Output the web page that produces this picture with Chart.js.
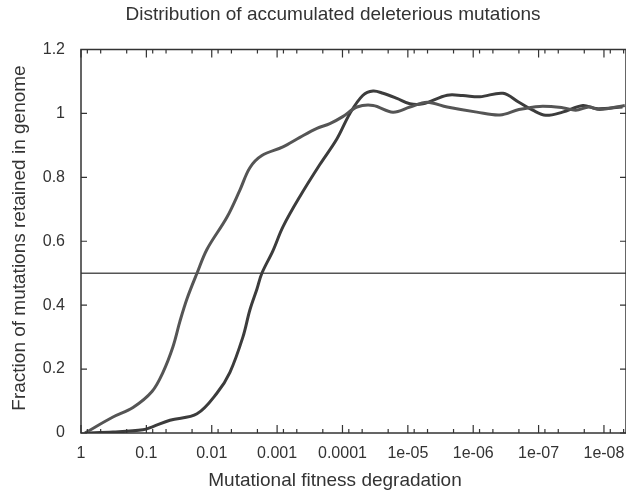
<!DOCTYPE html>
<html>
<head>
<meta charset="utf-8">
<title>Distribution of accumulated deleterious mutations</title>
<script src="https://cdn.jsdelivr.net/npm/chart.js@4.4.0/dist/chart.umd.min.js"></script>
<style>
  html, body { margin: 0; padding: 0; background: #fff; }
  #wrap { width: 626px; height: 492px; }
</style>
</head>
<body>
<div id="wrap"><canvas id="mutationsChart"></canvas></div>
<script>
// x axis: mutational fitness degradation, log scale running from 1 down to ~5e-9
const xTickValues = [1, 0.1, 0.01, 0.001, 1e-4, 1e-5, 1e-6, 1e-7, 1e-8];
const xTickLabels = ['1', '0.1', '0.01', '0.001', '0.0001', '1e-05', '1e-06', '1e-07', '1e-08'];
const xMinorSteps = [0.8, 0.5, 0.2];
const xMin = 4.6e-9;
const xMax = 1;

const yTickValues = [0, 0.2, 0.4, 0.6, 0.8, 1, 1.2];
const yTickLabels = ['0', '0.2', '0.4', '0.6', '0.8', '1', '1.2'];

// first curve (crosses 0.5 near 0.017)
const seriesA_x = [0.87, 0.324, 0.16, 0.082, 0.0557, 0.0392, 0.0306, 0.0239, 0.0168, 0.0118,
  0.00586, 0.00371, 0.00261, 0.00171, 0.000815, 0.000448, 0.000246, 0.000156, 9.9e-5, 6.0e-5,
  3.4e-5, 1.69e-5, 9.3e-6, 5.1e-6, 2.5e-6, 8.8e-7, 3.9e-7, 2.0e-7, 9.6e-8, 4.3e-8,
  2.7e-8, 1.7e-8, 1.16e-8, 4.8e-9];
const seriesA_y = [0, 0.05, 0.08, 0.13, 0.19, 0.27, 0.35, 0.42, 0.50, 0.575,
  0.675, 0.76, 0.83, 0.868, 0.895, 0.925, 0.953, 0.968, 0.99, 1.02,
  1.025, 1.004, 1.02, 1.035, 1.02, 1.004, 0.995, 1.012, 1.022, 1.018,
  1.01, 1.02, 1.012, 1.025];

// second curve (crosses 0.5 near 0.0017)
const seriesB_x = [0.87, 0.324, 0.113, 0.0793, 0.0436, 0.0168, 0.0083, 0.00527, 0.00334, 0.00261,
  0.00204, 0.00171, 0.00116, 0.000815, 0.000448, 0.000222, 0.000122, 7.7e-5, 4.9e-5, 3.4e-5,
  2.4e-5, 1.47e-5, 9.3e-6, 5.9e-6, 2.5e-6, 1.44e-6, 7.9e-7, 3.5e-7, 2.0e-7, 1.23e-7,
  7.8e-8, 4.3e-8, 2.1e-8, 1.33e-8, 5.2e-9];
const seriesB_y = [0, 0.003, 0.01, 0.02, 0.04, 0.06, 0.125, 0.19, 0.30, 0.385,
  0.45, 0.50, 0.57, 0.645, 0.74, 0.84, 0.92, 1.0, 1.056, 1.07,
  1.063, 1.047, 1.03, 1.03, 1.057, 1.056, 1.052, 1.063, 1.035, 1.01,
  0.994, 1.004, 1.025, 1.015, 1.02];

const halfLevel = 0.5;

const chartTitle = 'Distribution of accumulated deleterious mutations';
const xTitle = 'Mutational fitness degradation';
const yTitle = 'Fraction of mutations retained in genome';

const textFont = '"Liberation Sans", Arial, Helvetica, sans-serif';
const inkColor = '#333333';

function toPoints(xs, ys) {
  return xs.map((x, i) => ({ x: x, y: ys[i] }));
}

// gnuplot-like frame with inward tick marks
const framePlugin = {
  id: 'frameTicks',
  afterDatasetsDraw(chart) {
    const { ctx, chartArea: a, scales } = chart;
    const sx = scales.x, sy = scales.y;
    ctx.save();
    ctx.strokeStyle = inkColor;
    ctx.lineWidth = 1.5;
    ctx.strokeRect(a.left, a.top, a.right - a.left, a.bottom - a.top);

    ctx.lineWidth = 1.2;
    ctx.beginPath();
    const xTick = (v, len) => {
      const px = sx.getPixelForValue(v);
      if (px < a.left - 0.5 || px > a.right + 0.5) return;
      ctx.moveTo(px, a.bottom); ctx.lineTo(px, a.bottom - len);
      ctx.moveTo(px, a.top); ctx.lineTo(px, a.top + len);
    };
    xTickValues.forEach(v => xTick(v, 8));
    xTickValues.forEach(v => xMinorSteps.forEach(f => xTick(v * f, 4)));
    xMinorSteps.forEach(f => xTick(1e-8 * f, 4));
    yTickValues.forEach(v => {
      const py = sy.getPixelForValue(v);
      ctx.moveTo(a.left, py); ctx.lineTo(a.left + 6, py);
      ctx.moveTo(a.right, py); ctx.lineTo(a.right - 6, py);
    });
    ctx.stroke();
    ctx.restore();
  }
};

const titlesPlugin = {
  id: 'titles',
  afterDraw(chart) {
    const ctx = chart.ctx;
    ctx.save();
    ctx.fillStyle = inkColor;
    ctx.font = '19px ' + textFont;
    ctx.textAlign = 'center';
    ctx.textBaseline = 'alphabetic';
    ctx.fillText(chartTitle, 333, 20);
    ctx.fillText(xTitle, 335, 486);
    ctx.translate(25, 238);
    ctx.rotate(-Math.PI / 2);
    ctx.fillText(yTitle, 0, 0);
    ctx.restore();
  }
};

const ctx = document.getElementById('mutationsChart').getContext('2d');
const chart = new Chart(ctx, {
  type: 'line',
  data: {
    datasets: [
      {
        label: 'Series A',
        data: toPoints(seriesA_x, seriesA_y),
        borderColor: '#555555',
        borderWidth: 3,
        tension: 0.35
      },
      {
        label: 'Series B',
        data: toPoints(seriesB_x, seriesB_y),
        borderColor: '#3c3c3c',
        borderWidth: 3,
        tension: 0.35
      },
      {
        label: '0.5',
        data: [{ x: xMax, y: halfLevel }, { x: xMin, y: halfLevel }],
        borderColor: '#555555',
        borderWidth: 1.5,
        tension: 0
      }
    ]
  },
  options: {
    responsive: true,
    maintainAspectRatio: false,
    animation: false,
    layout: { padding: { top: 49.5, left: 0, right: 0, bottom: 0 } },
    elements: { point: { radius: 0 } },
    plugins: {
      legend: { display: false },
      tooltip: { enabled: false }
    },
    scales: {
      x: {
        type: 'logarithmic',
        reverse: true,
        min: xMin,
        max: xMax,
        grid: { display: false, drawTicks: false },
        border: { display: false },
        afterBuildTicks: scale => {
          scale.ticks = xTickValues.map(v => ({ value: v }));
        },
        afterFit: scale => {
          scale.height = 59;
          scale.paddingLeft = 0;
          scale.paddingRight = 0;
        },
        ticks: {
          autoSkip: false,
          maxRotation: 0,
          padding: 11,
          color: inkColor,
          font: { family: textFont, size: 16 },
          callback: (v, i) => xTickLabels[i]
        }
      },
      y: {
        type: 'linear',
        min: 0,
        max: 1.2,
        grid: { display: false, drawTicks: false },
        border: { display: false },
        afterBuildTicks: scale => {
          scale.ticks = yTickValues.map(v => ({ value: v }));
        },
        afterFit: scale => {
          scale.width = 81;
          scale.paddingTop = 0;
          scale.paddingBottom = 0;
        },
        ticks: {
          padding: 16,
          color: inkColor,
          font: { family: textFont, size: 16 },
          callback: (v, i) => yTickLabels[i]
        }
      }
    }
  },
  plugins: [framePlugin, titlesPlugin]
});
</script>
</body>
</html>
